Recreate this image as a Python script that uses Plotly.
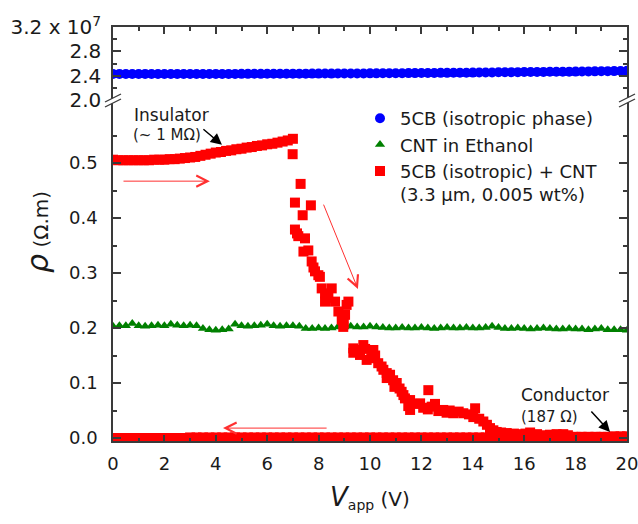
import plotly.graph_objects as go

# ---------------- data ----------------
V_GRID = [i * 0.25 for i in range(81)]  # 0 ... 20 V, step 0.25 V

# 5CB (isotropic phase), resistivity in units of 1e7 Ohm.m
rho_5cb_e7 = [
    2.428, 2.429, 2.428, 2.427, 2.428, 2.429, 2.428, 2.428, 2.427, 2.428, 2.429,
    2.428, 2.428, 2.429, 2.428, 2.428, 2.429, 2.428, 2.429, 2.429, 2.430,
    2.430, 2.431, 2.430, 2.431, 2.432, 2.431, 2.432, 2.433, 2.432, 2.433,
    2.434, 2.434, 2.435, 2.434, 2.435, 2.436, 2.436, 2.437, 2.437, 2.438,
    2.438, 2.439, 2.440, 2.440, 2.441, 2.442, 2.442, 2.443, 2.444, 2.445,
    2.446, 2.446, 2.447, 2.448, 2.449, 2.450, 2.451, 2.452, 2.453, 2.455,
    2.456, 2.457, 2.458, 2.459, 2.460, 2.461, 2.462, 2.463, 2.464, 2.465,
    2.466, 2.467, 2.468, 2.470, 2.471, 2.472, 2.474, 2.475, 2.477, 2.479,
]

# CNT in ethanol, Ohm.m
rho_cnt = [
    0.203, 0.204, 0.204, 0.208, 0.204, 0.203, 0.204, 0.205, 0.204, 0.207,
    0.205, 0.204, 0.205, 0.204,
    0.199, 0.197, 0.196, 0.197, 0.198,
    0.207, 0.204, 0.203, 0.204, 0.205, 0.207, 0.204, 0.203, 0.204, 0.204, 0.203,
    0.199, 0.199, 0.200, 0.199, 0.200,
    0.202, 0.202, 0.203, 0.202, 0.202, 0.203, 0.202, 0.201,
    0.200, 0.200, 0.201, 0.200, 0.200, 0.201, 0.200, 0.199, 0.200, 0.201,
    0.200, 0.200, 0.201, 0.200, 0.200, 0.201,
    0.203, 0.201, 0.199, 0.199, 0.200, 0.199, 0.198, 0.199, 0.200, 0.199,
    0.198, 0.198, 0.199, 0.198, 0.198, 0.197, 0.198, 0.199, 0.197, 0.197,
    0.197, 0.196,
]

# 5CB (isotropic) + CNT : forward sweep, insulating plateau 0 -> 7 V
mix_up_v = [
    0.0, 0.2, 0.4, 0.6, 0.8, 1.0, 1.2, 1.4, 1.6, 1.8, 2.0, 2.2, 2.4, 2.6, 2.8,
    3.0, 3.2, 3.4, 3.6, 3.8, 4.0, 4.2, 4.4, 4.6, 4.8, 5.0, 5.2, 5.4, 5.6, 5.8,
    6.0, 6.2, 6.4, 6.6, 6.8, 7.0,
]
mix_up_rho = [
    0.506, 0.505, 0.505, 0.505, 0.505, 0.505, 0.505, 0.505, 0.506, 0.506,
    0.506, 0.507, 0.507, 0.508, 0.509, 0.510, 0.511, 0.513, 0.515, 0.517,
    0.519, 0.520, 0.522, 0.523, 0.525, 0.526, 0.528, 0.529, 0.531, 0.532,
    0.534, 0.535, 0.537, 0.539, 0.541, 0.544,
]

# forward sweep: transition region 7 -> 20 V
mix_drop_v = [
    6.99, 7.30, 7.08, 7.70, 7.38, 7.08, 7.16, 7.21, 7.47, 7.41, 7.60, 7.73,
    7.80, 7.86, 8.05, 7.99, 8.12, 8.51, 8.25, 8.38, 8.25, 8.64, 9.16, 9.09,
    8.77, 9.03, 8.90, 8.96, 8.98,
    9.35, 9.35, 9.55, 9.74, 9.81, 9.61, 10.13, 10.20, 9.87, 10.05, 10.32,
    10.45, 10.52, 10.65, 10.78, 10.65, 10.90, 11.04, 10.95, 11.15, 11.23,
    11.30, 11.36, 11.56, 11.49, 11.56, 11.75, 11.95, 12.27, 12.07, 12.25,
    12.40, 12.53, 12.66, 12.85, 12.98, 13.10, 13.24, 13.45, 13.63, 13.85,
    14.09, 14.02, 14.25, 14.41, 14.55, 14.67, 14.80, 14.93, 15.10, 15.32,
    15.60, 15.84, 16.05, 16.23, 16.50, 16.74, 17.00, 17.26, 17.52, 17.70,
    17.91, 18.20, 18.50, 18.80, 19.10, 19.40, 19.70, 20.00,
]
mix_drop_rho = [
    0.516, 0.462, 0.428, 0.423, 0.405, 0.379, 0.372, 0.367, 0.363, 0.339,
    0.341, 0.321, 0.310, 0.303, 0.293, 0.296, 0.272, 0.272, 0.263, 0.255,
    0.248, 0.248, 0.248, 0.242, 0.230, 0.224, 0.215, 0.202, 0.208,
    0.163, 0.155, 0.160, 0.169, 0.162, 0.151, 0.160, 0.150, 0.142, 0.145,
    0.136, 0.130, 0.124, 0.118, 0.115, 0.109, 0.105, 0.100, 0.093, 0.090,
    0.084, 0.078, 0.072, 0.069, 0.058, 0.051, 0.062, 0.063, 0.087, 0.055,
    0.052, 0.057, 0.062, 0.049, 0.051, 0.046, 0.050, 0.045, 0.048, 0.045,
    0.043, 0.054, 0.038, 0.035, 0.030, 0.024, 0.018, 0.014, 0.011, 0.010,
    0.009, 0.008, 0.007, 0.008, 0.010, 0.007, 0.005, 0.006, 0.007, 0.007,
    0.005, 0.002, 0.002, 0.002, 0.002, 0.002, 0.002, 0.002, 0.002,
]

# reverse sweep 20 -> 0 V (conducting), on V_GRID
mix_down_rho = [
    0.003, 0.003, 0.003, 0.002, 0.002, 0.002, 0.002, 0.002, 0.002, 0.002,
    0.002, 0.002, 0.002, 0.002, 0.002, 0.002, 0.002, 0.002, 0.002, 0.002,
    0.002, 0.001, 0.001, 0.001, 0.001, 0.001, 0.001, 0.001, 0.001, 0.001,
    0.001, 0.001, 0.001, 0.001, 0.001, 0.001, 0.001, 0.001, 0.001, 0.001,
    0.001, 0.001, 0.001, 0.001, 0.001, 0.001, 0.001, 0.001, 0.001, 0.001,
    0.001, 0.001, 0.001, 0.001, 0.001, 0.001, 0.001, 0.001, 0.001, 0.001,
    0.001, 0.001, 0.001, 0.001, 0.001, 0.001, 0.001, 0.001, 0.001, 0.000,
    0.000, 0.000, 0.000, 0.000, 0.000, 0.000, 0.000, 0.000, 0.000, 0.000,
    0.000,
]

x_ticks = [0, 2, 4, 6, 8, 10, 12, 14, 16, 18, 20]
y_ticks = [0.0, 0.1, 0.2, 0.3, 0.4, 0.5]
y_tick_text = ["0.0", "0.1", "0.2", "0.3", "0.4", "0.5"]
y2_ticks = [2.0, 2.4, 2.8, 3.2]
y2_tick_text = ["2.0", "2.4", "2.8", "3.2 x 10<sup>7</sup>"]
legend_names = ["5CB (isotropic phase)", "CNT in Ethanol",
                "5CB (isotropic) + CNT<br>(3.3 \u00b5m, 0.005 wt%)"]

# ---------------- layout geometry ----------------
W, H = 638, 524
L, R, T, B = 113, 11, 27, 83
PW, PH = W - L - R, H - T - B
SPLIT = (H - B - 100) / PH  # break at pixel row 100

def px(xp):
    return (xp - L) / PW

def py(yp):
    return (H - B - yp) / PH

FONT = "DejaVu Sans"
AX = "#3a3a3a"
TXT = "#1a1a1a"

red_v = mix_up_v + mix_drop_v + V_GRID[::-1]
red_rho = mix_up_rho + mix_drop_rho + mix_down_rho

fig = go.Figure()
fig.add_trace(go.Scatter(
    x=V_GRID, y=rho_5cb_e7, xaxis="x2", yaxis="y2", mode="markers",
    name=legend_names[0],
    marker=dict(symbol="circle", size=10, color="#0000ff", line=dict(width=0)),
))
fig.add_trace(go.Scatter(
    x=V_GRID, y=rho_cnt, xaxis="x", yaxis="y", mode="markers",
    name=legend_names[1],
    marker=dict(symbol="triangle-up", size=9, color="#008000", line=dict(width=0)),
))
fig.add_trace(go.Scatter(
    x=red_v, y=red_rho, xaxis="x", yaxis="y", mode="markers",
    name=legend_names[2],
    marker=dict(symbol="square", size=10, color="#ff0000", line=dict(width=0)),
))

common_axis = dict(showline=True, linecolor=AX, linewidth=1.5, showgrid=False,
                   zeroline=False, tickcolor=AX, tickwidth=1.5, automargin=False,
                   ticklabeloverflow="allow")

fig.update_layout(
    width=W, height=H,
    margin=dict(l=L, r=R, t=T, b=B, pad=0, autoexpand=False),
    paper_bgcolor="white", plot_bgcolor="white",
    font=dict(family=FONT, color=TXT, size=18),
    showlegend=True,
    legend=dict(x=px(360), y=py(100), xanchor="left", yanchor="top",
                bgcolor="rgba(0,0,0,0)", font=dict(size=18, family=FONT, color=TXT),
                valign="top", tracegroupgap=0, itemwidth=30),
    xaxis=dict(domain=[0, 1], range=[0, 20], anchor="y", ticks="inside", ticklen=6,
               tickmode="array", tickvals=x_ticks, ticktext=[str(v) for v in x_ticks],
               tickfont=dict(size=18), ticklabelstandoff=6,
               minor=dict(tickmode="array", tickvals=list(range(1, 20, 2)),
                          ticks="inside", ticklen=3, tickcolor=AX, tickwidth=1.5),
               **common_axis),
    xaxis2=dict(domain=[0, 1], range=[0, 20], anchor="y2", side="top", matches="x",
                ticks="inside", ticklen=7, showticklabels=False,
                tickmode="array", tickvals=x_ticks,
                minor=dict(tickmode="array", tickvals=list(range(1, 20, 2)),
                           ticks="inside", ticklen=4, tickcolor=AX, tickwidth=1.5),
                **common_axis),
    yaxis=dict(domain=[0, SPLIT], range=[-3 / 550, 338 / 550], anchor="x",
               mirror="allticks", ticks="inside", ticklen=8,
               tickmode="array", tickvals=y_ticks, ticktext=y_tick_text,
               tickfont=dict(size=18), ticklabelstandoff=10,
               minor=dict(tickmode="array",
                          tickvals=[0.05, 0.15, 0.25, 0.35, 0.45, 0.55],
                          ticks="inside", ticklen=4, tickcolor=AX, tickwidth=1.5),
               **common_axis),
    yaxis2=dict(domain=[SPLIT, 1], range=[2.0, 3.2], anchor="x2",
                mirror="allticks", ticks="inside", ticklen=8,
                tickmode="array", tickvals=y2_ticks, ticktext=y2_tick_text,
                tickfont=dict(size=20), ticklabelstandoff=6,
                minor=dict(tickmode="array", tickvals=[2.2, 2.6, 3.0],
                           ticks="inside", ticklen=4, tickcolor=AX, tickwidth=1.5),
                **common_axis),
)

# axis titles
fig.add_annotation(
    xref="paper", yref="paper", x=px(37), y=py(232), xanchor="center", yanchor="middle",
    textangle=-90, showarrow=False,
    text="<span style='font-size:30px'><i>\u03c1</i></span> (\u03a9.m)",
    font=dict(size=20, family=FONT, color=TXT),
)
fig.add_annotation(
    xref="paper", yref="paper", x=px(370), y=py(497), xanchor="center", yanchor="middle",
    showarrow=False,
    text="<span style='font-size:26px'><i>V</i></span><sub>app</sub> (V)",
    font=dict(size=20, family=FONT, color=TXT),
)

# text labels
labels = [
    ("Insulator", 0.74, 0.587, 17),
    ("(~ 1 M\u03a9)", 0.70, 0.551, 15),
    ("Conductor", 15.8, 0.078, 17),
    ("(187 \u03a9)", 15.8, 0.038, 15),
]
for txt, xv, yv, fs in labels:
    fig.add_annotation(xref="x", yref="y", x=xv, y=yv, xanchor="left", yanchor="middle",
                       showarrow=False, text=txt,
                       font=dict(size=fs, family=FONT, color=TXT))

# arrows: (tail V, tail rho, head V, head rho, colour, head style, size, width)
arrows = [
    (3.46, 0.5636, 4.24, 0.533, "black", 2, 1.5, 1.5),
    (18.56, 0.0509, 19.34, 0.0109, "black", 2, 1.5, 1.5),
    (0.35, 0.467, 3.77, 0.467, "#ff3030", 5, 2.2, 1.0),
    (8.37, 0.018, 4.28, 0.018, "#ff3030", 5, 2.2, 1.0),
    (8.17, 0.427, 9.53, 0.271, "#ff3030", 5, 2.2, 1.0),
]
for tx, ty, hx, hy, col, head, size, wid in arrows:
    fig.add_annotation(xref="x", yref="y", axref="x", ayref="y",
                       x=hx, y=hy, ax=tx, ay=ty, text="", showarrow=True,
                       arrowhead=head, arrowsize=size, arrowwidth=wid,
                       arrowcolor=col, standoff=0, startstandoff=0)

# axis-break marks on left and right frame lines
for xc in (L, W - R):
    yc = 101
    x0, x1 = px(xc - 8), px(xc + 8)
    fig.add_shape(type="path", xref="paper", yref="paper",
                  path=f"M {x0} {py(yc + 6)} L {x1} {py(yc - 2)} L {x1} {py(yc - 7)} "
                       f"L {x0} {py(yc + 1)} Z",
                  fillcolor="white", line=dict(width=0), layer="above")
    for dy in (0, 5):
        fig.add_shape(type="line", xref="paper", yref="paper",
                      x0=x0, y0=py(yc + 6 - dy), x1=x1, y1=py(yc - 2 - dy),
                      line=dict(color=AX, width=1.3), layer="above")

fig.write_html("out.html")
